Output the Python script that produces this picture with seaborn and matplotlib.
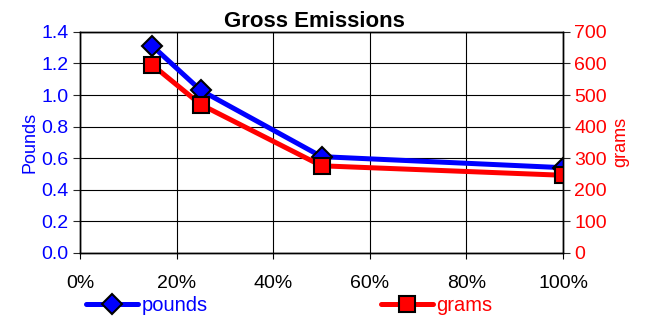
import matplotlib
matplotlib.use("Agg")
import matplotlib.pyplot as plt
import seaborn as sns
import pandas as pd
from matplotlib.ticker import PercentFormatter, MultipleLocator

# data
share = [0.15, 0.25, 0.50, 1.00]
pounds = [1.31, 1.03, 0.61, 0.54]
grams = [595, 470, 276, 246]

df = pd.DataFrame({"share": share, "pounds": pounds, "grams": grams})

sns.set_style("white")
plt.rcParams["font.family"] = ["Liberation Sans", "DejaVu Sans"]

fig, ax = plt.subplots(figsize=(6.45, 3.19), dpi=100)
fig.subplots_adjust(left=0.124, right=0.873, top=0.9, bottom=0.207)

ax2 = ax.twinx()

sns.lineplot(data=df, x="share", y="pounds", ax=ax, color="#0000ff", lw=3.6,
             marker="D", markersize=10, markerfacecolor="#0000ff",
             markeredgecolor="black", markeredgewidth=1.5, label="pounds", legend=False)
sns.lineplot(data=df, x="share", y="grams", ax=ax2, color="#ff0000", lw=3.6,
             marker="s", markersize=11, markerfacecolor="#ff0000",
             markeredgecolor="black", markeredgewidth=1.5, label="grams", legend=False)

ax.set_xlim(0, 1)
ax.set_ylim(0, 1.4)
ax2.set_ylim(0, 700)
ax.xaxis.set_major_locator(MultipleLocator(0.2))
ax.xaxis.set_major_formatter(PercentFormatter(1.0, decimals=0))
ax.yaxis.set_major_locator(MultipleLocator(0.2))
ax.yaxis.set_major_formatter(lambda v, p: f"{v:.1f}")
ax2.yaxis.set_major_locator(MultipleLocator(100))

ax.grid(True, color="black", lw=0.8)
for a in (ax, ax2):
    for s in a.spines.values():
        s.set_color("black")
        s.set_linewidth(1.0)

ax.tick_params(axis="x", labelsize=14, colors="black", length=4, bottom=True, pad=12)
ax.tick_params(axis="y", labelsize=14, labelcolor="#0000ff", length=5, left=True, pad=3)
ax2.tick_params(axis="y", labelsize=14, labelcolor="#ff0000", length=5, right=True, pad=3)

ax.set_xlabel("")
ax.set_ylabel("Pounds", color="#0000ff", fontsize=13, labelpad=2)
ax2.set_ylabel("grams", color="#ff0000", fontsize=13, labelpad=4)
ax.set_title("Gross Emissions", fontsize=16, fontweight="bold", color="black",
             pad=1, x=0.485)

h1, l1 = ax.get_legend_handles_labels()
h2, l2 = ax2.get_legend_handles_labels()
leg = fig.legend(h1 + h2, l1 + l2, loc="lower center", ncol=2, frameon=False,
                 bbox_to_anchor=(0.448, -0.045), fontsize=14.5, columnspacing=8.6,
                 handlelength=2.6, handletextpad=0.15)
for txt, c in zip(leg.get_texts(), ["#0000ff", "#ff0000"]):
    txt.set_color(c)

fig.savefig("out.png", dpi=100)
